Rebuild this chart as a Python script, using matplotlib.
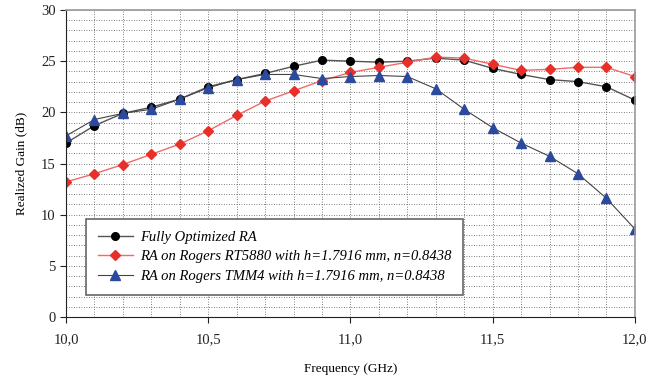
import numpy as np
import matplotlib.pyplot as plt
from matplotlib.ticker import MultipleLocator, FuncFormatter

plt.rcParams["font.family"] = ["Liberation Serif", "DejaVu Serif"]

# ---- data ----
freq = [10.0, 10.1, 10.2, 10.3, 10.4, 10.5, 10.6, 10.7, 10.8, 10.9, 11.0,
        11.1, 11.2, 11.3, 11.4, 11.5, 11.6, 11.7, 11.8, 11.9, 12.0]
gain_opt = [17.0, 18.7, 19.9, 20.5, 21.3, 22.5, 23.2, 23.8, 24.5, 25.1, 25.0,
            24.9, 25.0, 25.3, 25.1, 24.3, 23.7, 23.2, 23.0, 22.5, 21.2]
gain_rt5880 = [13.2, 14.0, 14.9, 15.9, 16.9, 18.2, 19.7, 21.1, 22.1, 23.1, 23.9,
               24.4, 24.9, 25.4, 25.3, 24.7, 24.1, 24.2, 24.4, 24.4, 23.5]
gain_tmm4 = [17.7, 19.3, 19.9, 20.3, 21.3, 22.4, 23.2, 23.7, 23.7, 23.3, 23.5,
             23.6, 23.5, 22.3, 20.3, 18.5, 17.0, 15.7, 14.0, 11.6, 8.6]
labels = ["Fully Optimized RA",
          "RA on Rogers RT5880 with h=1.7916 mm, n=0.8438",
          "RA on Rogers TMM4 with h=1.7916 mm, n=0.8438"]

fig = plt.figure(figsize=(6.62, 3.78), dpi=100)
ax = fig.add_axes([0.0997, 0.1614, 0.8593, 0.8121])

ax.plot(freq, gain_opt, color="#555555", lw=1.0, marker="o", ms=5.5,
        mfc="black", mec="black", label=labels[0])
ax.plot(freq, gain_rt5880, color="#f06a6a", lw=1.0, marker="D", ms=5,
        mfc="#e8302a", mec="#e8302a", label=labels[1])
ax.plot(freq, gain_tmm4, color="#444444", lw=0.8, marker="^", ms=6.5,
        mfc="#2b4a9e", mec="#2b4a9e", label=labels[2])

ax.set_xlim(10.0, 12.0)
ax.set_ylim(0, 30)
ax.xaxis.set_major_locator(MultipleLocator(0.5))
ax.xaxis.set_minor_locator(MultipleLocator(0.1))
ax.yaxis.set_major_locator(MultipleLocator(5))
ax.yaxis.set_minor_locator(MultipleLocator(1))
ax.xaxis.set_major_formatter(FuncFormatter(lambda v, p: f"{v:.1f}".replace(".", ",")))
ax.grid(which="both", linestyle=(0, (1, 2)), color="#555555", lw=0.6)
ax.tick_params(which="minor", length=0)
ax.tick_params(which="major", direction="out", length=4, labelsize=10.5,
               colors="#222222")
ax.tick_params(axis="x", pad=8)

for s in ["top", "right"]:
    ax.spines[s].set_color("#999999")
    ax.spines[s].set_linewidth(1.2)
for s in ["left", "bottom"]:
    ax.spines[s].set_color("#222222")

ax.set_xlabel("Frequency (GHz)", fontsize=9.5, labelpad=12)
ax.set_ylabel("Realized Gain (dB)", fontsize=9.5, labelpad=10)

leg = ax.legend(loc="lower left", bbox_to_anchor=(0.035, 0.072),
                prop={"style": "italic", "size": 10.5}, fancybox=False,
                framealpha=1, edgecolor="#666666", handlelength=2.4,
                handletextpad=0.5, borderpad=0.8, labelspacing=0.45,
                borderaxespad=0)
leg.get_frame().set_linewidth(1.2)

plt.savefig("out.png", dpi=100, facecolor="white")
